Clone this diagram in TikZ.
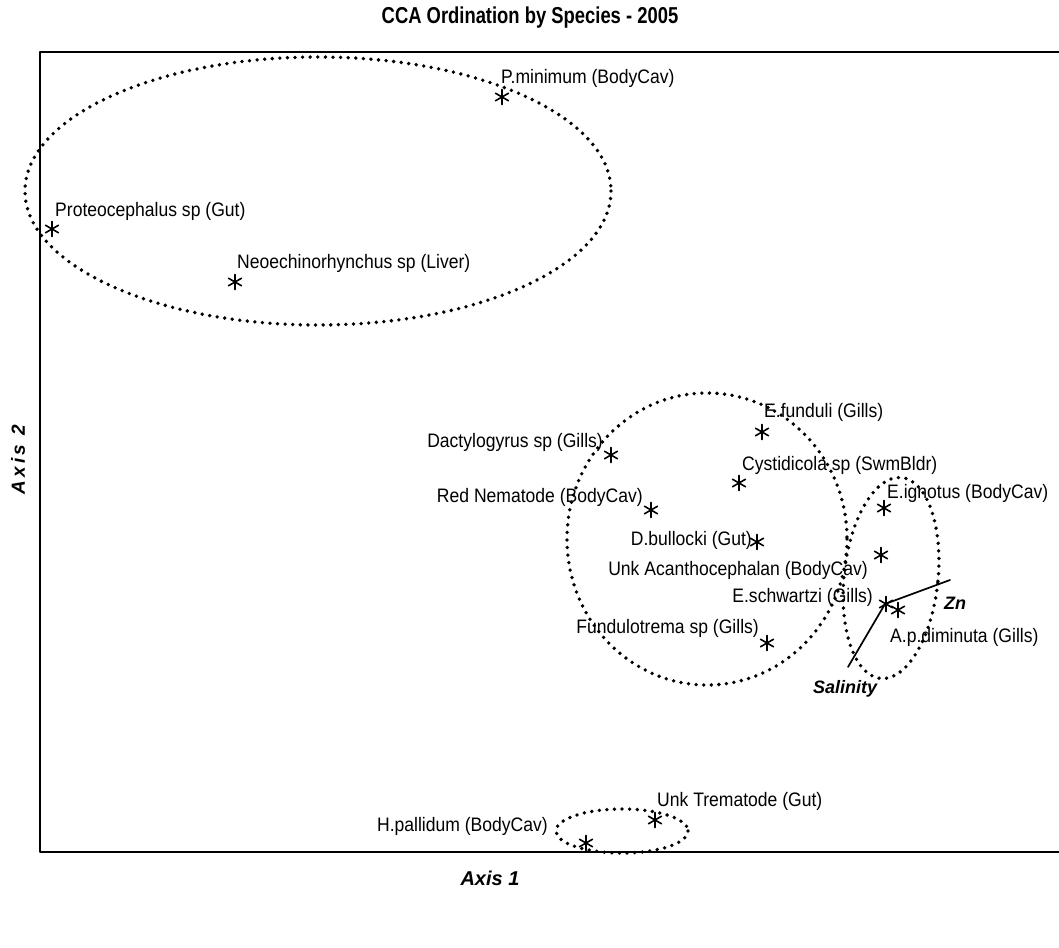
\documentclass[tikz,border=0pt]{standalone}
\usepackage{fontspec}
\setmainfont{Liberation Sans}
\newfontfamily\hepfont[FakeStretch=0.9]{Liberation Sans}
\newfontfamily\tieudefont[FakeStretch=0.8]{Liberation Sans}
\usetikzlibrary{positioning}

\begin{document}
\begin{tikzpicture}[x=1pt, y=-1pt, line join=round, line cap=round,
	nhan/.style={font=\hepfont\fontsize{19.5}{21}\selectfont, inner sep=0pt},
	vong/.style={line width=3.8pt, dash pattern=on 0pt off 7.6pt, line cap=round},
	khung/.style={line width=1.9pt},
	vecto/.style={line width=1.7pt},
	spmark/.pic={\draw[line width=1.6pt] (90:7.5)--(270:7.5) (30:7.5)--(210:7.5) (150:7.5)--(330:7.5);}]
	\useasboundingbox (0,0) rectangle (1059,947);
	
	% Khung của biểu đồ (cạnh phải bị cắt)
	\coordinate (TL) at (40,52);
	\coordinate (BL) at (40,852);
	\coordinate (TR) at (1059,52);
	\coordinate (BR) at (1059,852);
	\draw[khung] (TR) -- (TL) -- (BL) -- (BR);
	
	% Tiêu đề và tên các trục
	\node[font=\tieudefont\bfseries\fontsize{23}{26}\selectfont] (tieude) at (530,18) {CCA Ordination by Species - 2005};
	\node[font=\bfseries\itshape\fontsize{20}{22}\selectfont] (truc1) at (490,878) {Axis 1};
	\node[font=\bfseries\itshape\fontsize{19}{21}\selectfont, rotate=90] (truc2) at (18,460) {\addfontfeature{LetterSpace=18}Axis 2};
	
	% 1. Các điểm loài (dấu sao)
	\coordinate (Pmin) at (502,97);
	\coordinate (Proteo) at (52,229);
	\coordinate (Neo) at (235,282);
	\coordinate (Efund) at (762,432);
	\coordinate (Dacty) at (611,455);
	\coordinate (Cysti) at (739,483);
	\coordinate (Red) at (651,510);
	\coordinate (Eign) at (884,508);
	\coordinate (Dbull) at (757,542);
	\coordinate (Unkac) at (881,555);
	\coordinate (Eschw) at (886,604);
	\coordinate (Apdim) at (898,610);
	\coordinate (Fund) at (767,643);
	\coordinate (Hpall) at (586,843);
	\coordinate (Unktr) at (655,820);
	\foreach \p in {Pmin,Proteo,Neo,Efund,Dacty,Cysti,Red,Eign,Dbull,Unkac,Eschw,Apdim,Fund,Hpall,Unktr}
		\pic at (\p) {spmark};
	
	% 2. Tên các loài
	\node[nhan, anchor=west] (lPmin) at (501,78) {P.minimum (BodyCav)};
	\node[nhan, anchor=west] (lProteo) at (55,211) {Proteocephalus sp (Gut)};
	\node[nhan, anchor=west] (lNeo) at (237,263) {Neoechinorhynchus sp (Liver)};
	\node[nhan, anchor=west] (lEfund) at (764,412) {E.funduli (Gills)};
	\node[nhan, anchor=east] (lDacty) at (603,442) {Dactylogyrus sp (Gills)};
	\node[nhan, anchor=west] (lCysti) at (742,465) {Cystidicola sp (SwmBldr)};
	\node[nhan, anchor=east] (lRed) at (643,497) {Red Nematode (BodyCav)};
	\node[nhan, anchor=west] (lEign) at (887,493) {E.ignotus (BodyCav)};
	\node[nhan, anchor=east] (lDbull) at (752,540) {D.bullocki (Gut)};
	\node[nhan, anchor=east] (lUnkac) at (868,570) {Unk Acanthocephalan (BodyCav)};
	\node[nhan, anchor=east] (lEschw) at (873,597) {E.schwartzi (Gills)};
	\node[nhan, anchor=west] (lApdim) at (890,637) {A.p.diminuta (Gills)};
	\node[nhan, anchor=east] (lFund) at (759,628) {Fundulotrema sp (Gills)};
	\node[nhan, anchor=east] (lHpall) at (548,826) {H.pallidum (BodyCav)};
	\node[nhan, anchor=west] (lUnktr) at (657,801) {Unk Trematode (Gut)};
	
	% 3. Các vectơ môi trường
	\coordinate (goc) at (885,604);
	\coordinate (Zn) at (950,580);
	\coordinate (Sal) at (848,667);
	\draw[vecto] (goc) -- (Zn);
	\draw[vecto] (goc) -- (Sal);
	\node[font=\bfseries\itshape\fontsize{18}{20}\selectfont] (lZn) at (955,603) {Zn};
	\node[font=\bfseries\itshape\fontsize{18}{20}\selectfont] (lSal) at (845,689) {Salinity};
	
	% 4. Các nhóm loài (vòng chấm)
	\draw[vong] (318,191) ellipse [x radius=293, y radius=134];
	\draw[vong] (707,539) ellipse [x radius=140, y radius=146];
	\draw[vong, rotate around={-6:(891,578)}] (891,578) ellipse [x radius=47, y radius=101];
	\draw[vong] (622,831) ellipse [x radius=66, y radius=22];
\end{tikzpicture}
\end{document}
